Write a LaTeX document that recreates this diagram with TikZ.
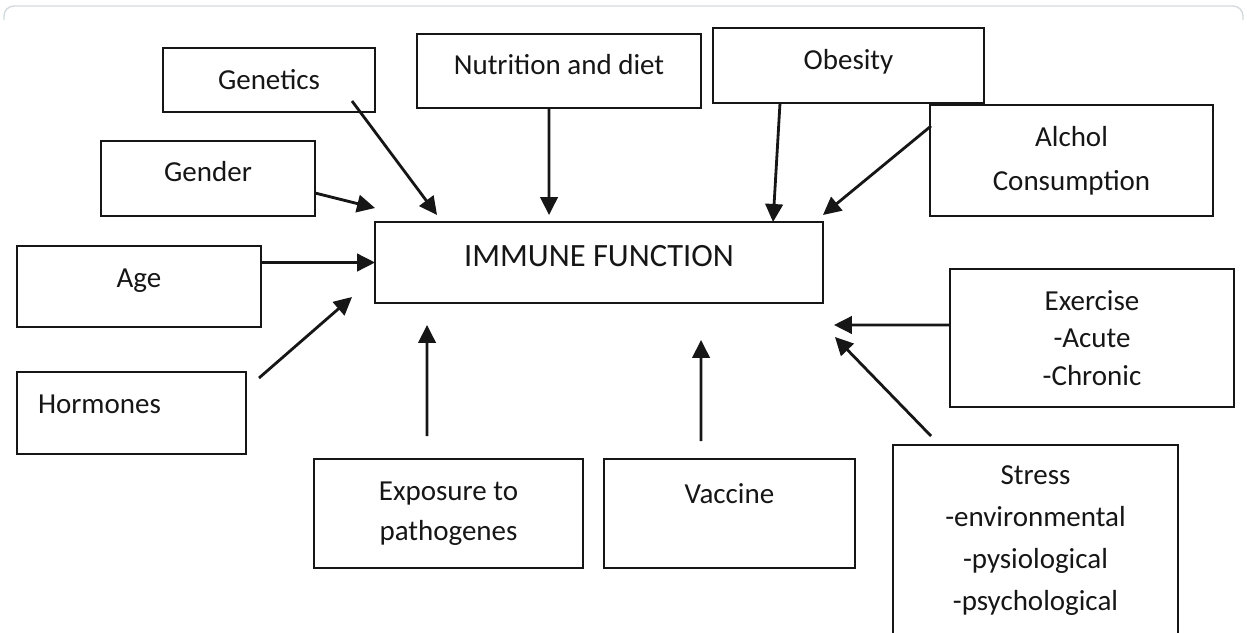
\documentclass[tikz,border=0pt]{standalone}
\usepackage{fontspec}
\setmainfont{Carlito}
\usetikzlibrary{arrows.meta,positioning,calc}
\definecolor{Ink}{HTML}{161616}
\definecolor{Frame}{HTML}{D2DADE}
\tikzset{
  factor/.style={draw=Ink,line width=1.1pt,align=center,inner sep=0pt,outer sep=0pt,text=Ink,
    font=\fontsize{16.5}{23}\selectfont},
  core/.style={factor,font=\fontsize{18.5}{24}\selectfont},
  lift/.style={text depth=#1},
  arrow/.style={-{Triangle[length=3.6mm,width=3.5mm]},draw=Ink,line width=1.6pt}
}

\begin{document}
\begin{tikzpicture}[x=0.02cm,y=-0.02cm]
    \useasboundingbox (0,0) rectangle (1247,632);
    \draw[Frame,line width=.8pt,rounded corners=2mm] (4,20) -- (4,6) -- (1243,6) -- (1243,20);
    % factors round the centre box
    \node[factor,minimum width=4.24cm,minimum height=1.28cm] (genetics) at (269,80) {Genetics};
    \node[factor,lift=8pt,minimum width=4.28cm,minimum height=1.5cm] (gender) at (208,178.5) {Gender};
    \node[factor,lift=7pt,minimum width=5.68cm,minimum height=1.48cm] (diet) at (559,71) {Nutrition and diet};
    \node[factor,lift=7pt,minimum width=5.42cm,minimum height=1.5cm] (obesity) at (848.5,65.5) {Obesity};
    \node[factor,minimum width=5.66cm,minimum height=2.22cm,font=\fontsize{16.5}{25}\selectfont] (alcohol) at (1071.5,160.5) {Alchol\\Consumption};
    \node[factor,lift=9pt,minimum width=4.88cm,minimum height=1.62cm] (age) at (139,286.5) {Age};
    \node[factor,lift=10.5pt,minimum width=4.58cm,minimum height=1.64cm,text width=3.74cm,align=left] (hormones) at (131.5,413) {Hormones};
    \node[core,lift=7pt,minimum width=8.96cm,minimum height=1.62cm] (immune) at (599,262.5) {IMMUNE FUNCTION};
    \node[factor,minimum width=5.38cm,minimum height=2.18cm] (pathogens) at (448.5,513.5) {Exposure to\\pathogenes};
    \node[factor,minimum width=5.02cm,minimum height=2.18cm] (vaccine) at (729.5,513.5) {Vaccine\\~};
    \node[factor,minimum width=5.68cm,minimum height=2.76cm,font=\fontsize{16.5}{21.5}\selectfont] (exercise) at (1092,338) {Exercise\\-Acute\\-Chronic};
    \node[factor,minimum width=5.7cm,minimum height=3.82cm,font=\fontsize{16.5}{24}\selectfont] (stress) at (1035.5,540.5) {Stress\\-environmental\\-pysiological\\-psychological};
    % arrow tips
    \coordinate (inGen) at ($(immune.north west)+(62,-7)$);
    \coordinate (inGender) at ($(immune.north west)+(0,-14)$);
    \coordinate (inDiet) at ($(immune.north west)+(174,-7)$);
    \coordinate (inObesity) at ($(immune.north west)+(398,0)$);
    \coordinate (inAlcohol) at ($(immune.north east)+(0,-7)$);
    \coordinate (inHorm) at ($(immune.south west)+(-23,-6)$);
    \coordinate (inPath) at ($(immune.south west)+(52,22)$);
    \coordinate (inVacc) at ($(immune.south west)+(326,37)$);
    \coordinate (inExer) at ($(immune.south east)+(11,22)$);
    \coordinate (inStress) at ($(immune.south east)+(12,34)$);
    \draw[arrow] ($(genetics.south east)+(-23,-11)$) -- (inGen);
    \draw[arrow] ($(gender.east)+(0,14.5)$) -- (inGender);
    \draw[arrow] ($(diet.south)+(-10,0)$) -- (inDiet);
    \draw[arrow] ($(obesity.south)+(-68.5,0)$) -- (inObesity);
    \draw[arrow] ($(alcohol.north west)+(1,21)$) -- (inAlcohol);
    \draw[arrow] (age.east |- immune.west) -- (immune.west);
    \draw[arrow] ($(hormones.north east)+(13,6)$) -- (inHorm);
    \draw[arrow] ($(pathogens.north)+(-21.5,-23)$) -- (inPath);
    \draw[arrow] ($(vaccine.north)+(-28.5,-18)$) -- (inVacc);
    \draw[arrow] ($(exercise.west)+(0,-13)$) -- (inExer);
    \draw[arrow] ($(stress.north west)+(38,-9)$) -- (inStress);
\end{tikzpicture}
\end{document}
